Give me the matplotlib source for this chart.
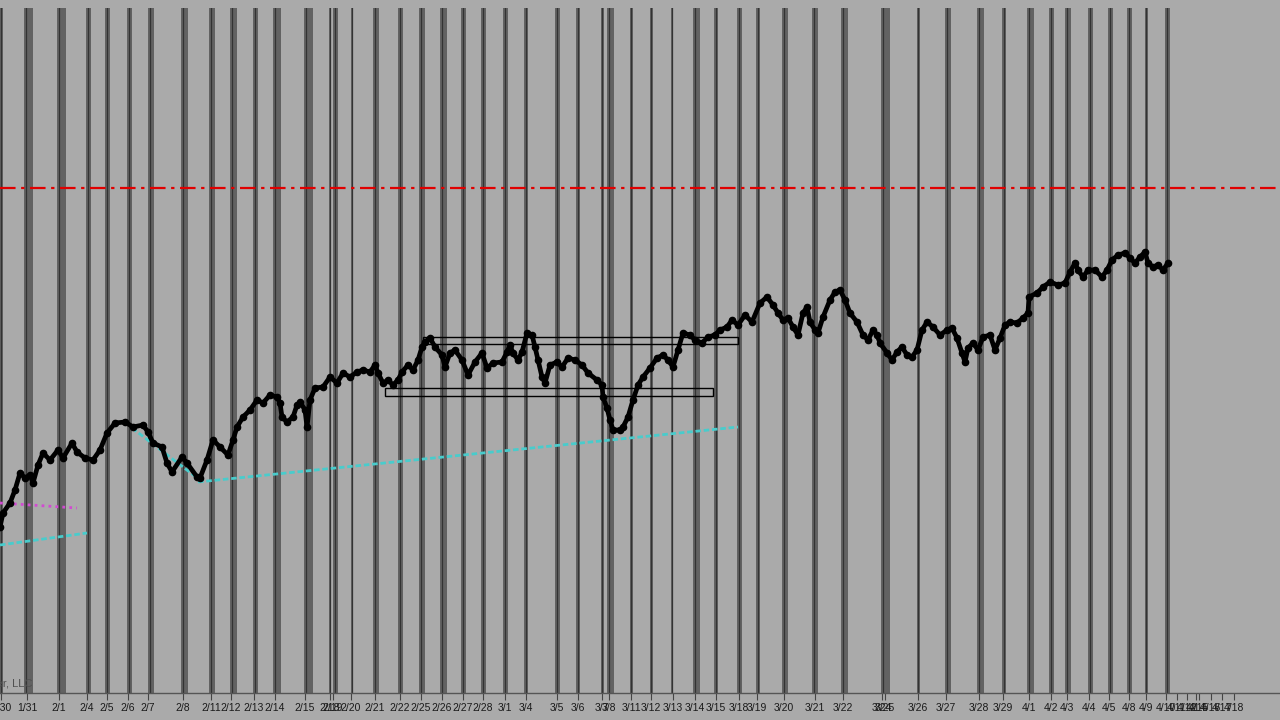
import matplotlib
matplotlib.use('Agg')
import matplotlib.pyplot as plt
from matplotlib.patches import Rectangle

plt.rcParams['font.family'] = ['Liberation Sans', 'DejaVu Sans']

# session time (chart units) and price level (chart points)
t = [0, 3, 10, 15, 20, 25, 30, 33, 38, 43, 50, 58, 63, 72, 77, 85, 93, 100, 107, 115,
     125, 133, 143, 148, 153, 162, 167, 172, 182, 187, 197, 200, 207, 213, 220, 228, 233, 237, 243, 250,
     257, 263, 270, 277, 280, 282, 287, 293, 297, 300, 305, 307, 310, 315, 323, 330, 337, 343, 350, 357,
     363, 370, 375, 378, 383, 388, 393, 398, 402, 408, 413, 418, 422, 425, 430, 435, 442, 445, 450, 455,
     462, 468, 475, 482, 487, 493, 502, 507, 510, 513, 518, 522, 527, 532, 535, 538, 542, 545, 550, 557,
     562, 568, 575, 582, 588, 597, 602, 603, 607, 610, 613, 620, 623, 628, 633, 638, 643, 650, 657, 663,
     668, 673, 678, 683, 690, 695, 702, 708, 715, 720, 727, 732, 738, 745, 752, 760, 767, 773, 778, 783,
     788, 793, 798, 803, 807, 810, 815, 818, 823, 830, 835, 840, 845, 850, 857, 863, 868, 873, 877, 880,
     887, 892, 897, 902, 907, 912, 917, 922, 927, 933, 940, 947, 952, 957, 962, 965, 968, 973, 978, 983,
     990, 995, 1000, 1005, 1010, 1017, 1023, 1028, 1029, 1037, 1043, 1050, 1058, 1065, 1070, 1075, 1078, 1083, 1088, 1095,
     1102, 1107, 1112, 1118, 1125, 1130, 1135, 1140, 1145, 1148, 1153, 1158, 1163, 1168]
price = [193, 207, 217, 230, 247, 242, 245, 237, 255, 267, 260, 270, 262, 277, 268, 262, 260, 270, 287, 297,
         298, 293, 295, 288, 277, 273, 257, 248, 263, 257, 243, 242, 260, 280, 273, 265, 280, 293, 303, 310,
         320, 317, 325, 323, 317, 303, 298, 303, 315, 318, 310, 293, 320, 332, 333, 343, 337, 347, 343, 348,
         350, 348, 355, 347, 337, 340, 335, 340, 348, 355, 350, 360, 373, 378, 382, 373, 365, 353, 367, 370,
         360, 345, 358, 367, 352, 357, 358, 368, 375, 367, 360, 368, 387, 385, 373, 360, 343, 337, 355, 358,
         353, 362, 360, 355, 347, 340, 335, 323, 312, 300, 290, 290, 293, 303, 320, 335, 343, 352, 362, 365,
         360, 353, 370, 387, 385, 380, 377, 383, 385, 390, 393, 400, 395, 405, 398, 417, 423, 415, 407, 400,
         402, 393, 385, 407, 413, 398, 390, 387, 403, 420, 428, 430, 420, 407, 398, 385, 380, 390, 385, 377,
         367, 360, 368, 373, 365, 363, 370, 390, 398, 393, 385, 390, 392, 382, 367, 358, 372, 377, 370, 383,
         385, 370, 382, 395, 398, 397, 402, 407, 423, 427, 433, 438, 435, 437, 448, 457, 450, 443, 450, 450,
         443, 450, 460, 465, 467, 462, 457, 463, 468, 457, 453, 455, 450, 457]

# day ticks
tick_pos = [1, 27, 59, 87, 107, 128, 148, 183, 211, 231, 254, 275, 305, 330, 333, 351, 375, 400, 421,
            442, 463, 483, 505, 526, 557, 578, 602, 609, 631, 651, 673, 695, 716, 739, 757, 784, 815, 843,
            882, 885, 918, 946, 979, 1003, 1029, 1051, 1067, 1089, 1109, 1129, 1146, 1166,
            1177, 1187, 1196, 1199, 1211, 1222, 1234]
tick_lbl = ['1/30', '1/31', '2/1', '2/4', '2/5', '2/6', '2/7', '2/8', '2/11', '2/12', '2/13', '2/14', '2/15',
            '2/18', '2/19', '2/20', '2/21', '2/22', '2/25', '2/26', '2/27', '2/28', '3/1', '3/4', '3/5', '3/6',
            '3/7', '3/8', '3/11', '3/12', '3/13', '3/14', '3/15', '3/18', '3/19', '3/20', '3/21', '3/22',
            '3/24', '3/25', '3/26', '3/27', '3/28', '3/29', '4/1', '4/2', '4/3', '4/4', '4/5', '4/8', '4/9', '4/10',
            '4/11', '4/12', '4/14', '4/15', '4/16', '4/17', '4/18']

# session separator bands (start, width)
band_start = [0, 24, 57, 86, 105, 127, 148, 181, 209, 230, 253, 273, 304, 329, 333, 351, 373, 398, 419,
              440, 461, 481, 503, 524, 555, 576, 601, 607, 630, 650, 671, 693, 714, 737, 756, 782, 812, 841,
              881, 917, 945, 977, 1002, 1027, 1049, 1065, 1088, 1108, 1127, 1145, 1165]
band_width = [2, 8, 8, 4, 4, 4, 5, 6, 5, 6, 4, 7, 8, 1, 4, 1, 5, 4, 5,
              6, 4, 4, 4, 3, 4, 3, 2, 6, 2, 2, 1, 6, 3, 4, 3, 5, 5, 6,
              8, 2, 5, 6, 3, 6, 4, 5, 4, 4, 4, 2, 4]

resistance = 532
boxes = [(423, 376, 315, 7), (385, 324, 328, 8)]
cyan_lines = [((198, 738), (238, 293)), ((132, 200), (292, 240)), ((0, 87), (175, 187))]
magenta_line = ((0, 77), (217, 212))

bg = '#aaaaaa'
fig = plt.figure(figsize=(12.8, 7.2), dpi=100, facecolor=bg)
ax = fig.add_axes([0, 27 / 720, 1, 685 / 720], facecolor=bg)
ax.set_xlim(0, 1280)
ax.set_ylim(27, 712)

for s, w in zip(band_start, band_width):
    ax.axvspan(s, s + w + 0.5, color='#626262', lw=0, zorder=1)
    ax.axvline(s + min(1.5, w / 2), color='#333333', lw=0.9, zorder=1.5)

ax.axhline(resistance, color='#e00000', lw=1.6, dashes=(7, 2.5, 1.5, 2.5), zorder=3)

for x0, y0, w, h in boxes:
    ax.add_patch(Rectangle((x0, y0), w, h, fill=False, edgecolor='black', lw=1.0, zorder=3))

for xs, ys in cyan_lines:
    ax.plot(xs, ys, color='#48cccc', lw=2.0, ls=(0, (2, 1)), zorder=3)
ax.plot(magenta_line[0], magenta_line[1], color='#d24ad2', lw=2.0, ls=(0, (1, 1.5)), zorder=3)

ax.plot(t, price, color='black', lw=3.4, marker='o', ms=4.5, zorder=4)

ax.text(32, 31, 'Trader, LLC', ha='right', va='bottom', fontsize=8, color='#505050')

ax.set_xticks(tick_pos)
ax.set_xticklabels(tick_lbl, fontsize=7.5, color='#1a1a1a')
ax.tick_params(axis='x', length=5, width=0.8, color='#444444', pad=2)
ax.set_yticks([])
for side in ['top', 'left', 'right']:
    ax.spines[side].set_visible(False)
ax.spines['bottom'].set_color('#555555')
ax.spines['bottom'].set_linewidth(1.0)

fig.savefig('out.png', dpi=100, facecolor=bg)
